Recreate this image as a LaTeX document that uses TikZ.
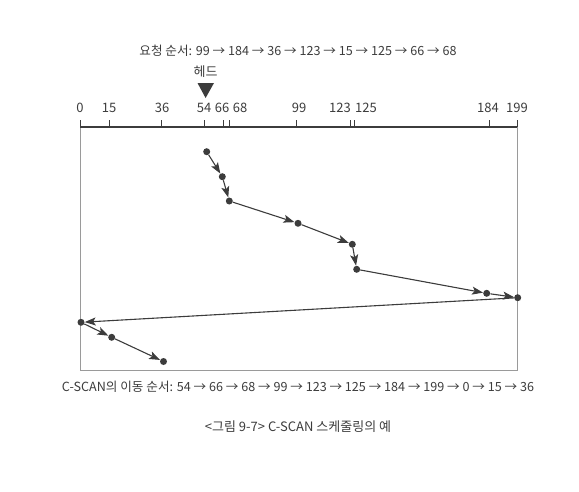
\documentclass[tikz,border=0pt]{standalone}
\usepackage{fontspec}
\setmainfont{Noto Sans CJK KR}
\usetikzlibrary{arrows.meta}
\definecolor{ink}{HTML}{3C3C3C}
\definecolor{frame}{HTML}{9A9A9A}
\tikzset{
  pt/.style={circle,fill=ink,inner sep=0pt,minimum size=7pt},
  seek/.style={-{Stealth[length=11pt,width=8pt,inset=2.5pt]},ink,line width=1.1pt},
  lbl/.style={text=ink,font=\fontsize{12.6}{15}\selectfont,inner sep=1pt},
  tlbl/.style={lbl,font=\fontsize{13}{16}\selectfont}
}
\begin{document}
\begin{tikzpicture}[x=1pt,y=-1pt]
			\useasboundingbox (0,0) rectangle (579,491);
			\node[lbl] (req) at (298,51) {요청 순서: 99 → 184 → 36 → 123 → 15 → 125 → 66 → 68};
			\node[tlbl] (head) at (205.6,72) {헤드};
			\fill[ink] (197.5,83) -- (214,83) -- (205.6,98) -- cycle;
			% axis and frame
			\draw[frame,line width=0.6pt] (80,127) -- (80,370) -- (517,370) -- (517,127);
			\draw[ink,line width=1.1pt] (80,127) -- (517,127);
			\foreach \v/\t/\l in {0/80/80,15/109/109,36/161.7/162,54/204/204,66/223/222,68/229/240,99/296/299,123/350.7/340,125/354.7/366,184/489/488,199/517/517} {
				\draw[ink,line width=0.9pt] (\t,120) -- (\t,127);
				\node[tlbl] (t\v) at (\l,108) {\v};
			}
			% service order
			\node[pt] (p54) at (206.7,151.7) {};
			\node[pt] (p66) at (222.3,176.7) {};
			\node[pt] (p68) at (229.3,201) {};
			\node[pt] (p99) at (298,223.3) {};
			\node[pt] (p123) at (352.3,244.3) {};
			\node[pt] (p125) at (356.7,269.3) {};
			\node[pt] (p184) at (486.7,293.3) {};
			\node[pt] (p199) at (517.7,297.7) {};
			\node[pt] (p0) at (81,322.3) {};
			\node[pt] (p15) at (111.7,337.3) {};
			\node[pt] (p36) at (163.5,361.5) {};
			\foreach \a/\b in {54/66,66/68,68/99,99/123,123/125,125/184,184/199,199/0,0/15,15/36}
				\draw[seek] (p\a) -- (p\b);
			\node[lbl] (order) at (298,387) {C-SCAN의 이동 순서: 54 → 66 → 68 → 99 → 123 → 125 → 184 → 199 → 0 → 15 → 36};
			\node[tlbl] (cap) at (298,427) {<그림 9-7> C-SCAN 스케줄링의 예};
		\end{tikzpicture}
\end{document}
